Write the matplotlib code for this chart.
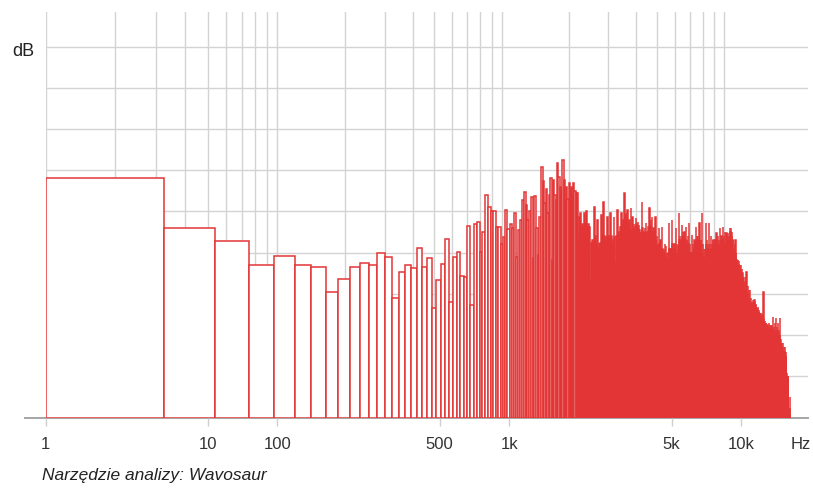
import matplotlib
matplotlib.use("Agg")
import matplotlib.pyplot as plt
import numpy as np

plt.rcParams['font.family'] = ['Liberation Sans', 'DejaVu Sans']

# FFT bin width of the analyser (44.1 kHz, 2048 points)
BIN_HZ = 44100 / 2048
F_MIN = 10.0
F_MAX = 19350.0

# level of each FFT bin (one grid step = 10)
level_lf = [58.2, 45.9, 42.8, 36.9, 39.2, 36.9, 36.4, 30.5, 33.7, 36.5,
            37.6, 37.0, 40.0, 38.9, 28.9, 35.4, 37.0, 36.3, 41.1, 36.6,
            38.6, 26.5, 33.4, 37.3, 43.3, 28.0, 39.0, 40.2, 34.3, 34.2,
            46.5, 27.3, 46.9, 47.5, 40.2, 44.9, 54.0, 51.0, 50.2, 50.0,
            46.3, 46.2, 42.0, 43.9]
level_1k = [50.4, 45.7, 47.0, 45.9, 49.7, 39.0, 45.5, 48.0, 52.8, 54.7,
            51.6, 47.9, 50.0, 53.6, 38.6, 53.8, 46.0, 39.4, 48.7, 60.7,
            57.5, 52.0, 55.4, 49.6, 54.0, 58.1, 38.2, 57.6, 54.0, 52.8,
            61.8, 58.4, 56.0, 55.2, 62.5, 57.6, 52.8, 56.0, 53.0, 57.0,
            55.0,
            56, 54, 56.8, 55, 54.4,
            54.4, 43, 48.7,
            49.6, 46.3, 47,
            46.3, 49.6, 47,
            50, 46.3, 47, 46.3,
            33.4, 42.3, 43,
            42.3, 51.2, 44, 42.3,
            48, 40.7, 42, 41,
            42.3, 49.1, 44,
            52.4, 44, 35, 43,
            43.9, 48.7, 44, 43.9,
            42.3, 49.6, 44, 42.3, 43,
            48.7, 43.9, 37.5, 44,
            43.9, 50.4, 45, 43.9, 44.5,
            46.3, 49.6, 47, 46.3,
            48, 54.4, 49, 48, 49.5,
            46.3, 50.4, 47, 46.3, 48]
level_2k = [41.5, 50.8,
            45.5, 48.7, 46, 45.5, 47, 45.5,
            46.3, 48.3, 47, 46.3, 47.5,
            45.5, 46.7, 45.5, 31.7, 45,
            44.7, 52.4, 46, 44.7, 45, 44.7, 46,
            44.7, 47.1, 35.8, 44, 45, 44.7,
            46.3, 50.8, 47, 46.3, 48,
            44.7, 48.7, 45, 44.7, 46, 44.7, 45,
            41.5, 48.7, 43, 41.5, 44, 41.5, 42,
            40.7, 45.9, 42, 40.7, 43, 40.7,
            40, 46.3, 41, 24.5, 40, 41, 40, 42,
            38.2, 41.5, 39, 38.2, 40, 38.2, 39,
            40, 47.1, 41, 31.7, 40, 41, 39,
            41, 48, 42, 40, 23.7, 41, 40, 42, 41,
            39, 45.9, 40, 39, 42, 39, 40, 39,
            41.5, 49.6, 43, 41.5, 44, 41.5, 42,
            43, 46.7, 44, 43, 45, 43, 44, 43, 45, 43,
            43, 46.3, 42, 23.7, 42, 43, 42, 44, 42,
            39, 47.1, 40, 39, 42, 39, 40, 39,
            39.9, 44.3, 40, 39.9, 42, 39.9, 41, 40, 43, 39.9, 41,
            42.3, 46.3, 43, 42.3, 44, 42.3, 43, 42.3, 44,
            41, 25.3, 42, 47.1, 43, 41, 42, 41, 43,
            37.4, 49.6, 40, 37.4, 42, 37.4, 39, 38, 37.4, 41, 38, 39,
            32, 40.7, 47.1, 42, 40.7, 43, 40.7, 41, 40.7, 42, 41,
            40, 47.1, 41, 29.3, 40, 42, 40, 44, 40, 41, 40, 42, 40, 41, 43, 40]
level_hf = [40, 43, 41, 40, 42, 40, 41, 40, 43, 40,
            41.5, 44.7, 42, 41.5, 43, 41.5, 42, 41.5, 44, 41.5, 42, 43,
            41.5, 45.9, 42, 41.5, 27.8, 42, 43, 41.5, 44, 41.5, 42, 41.5, 43,
            40.7, 46.3, 42, 40.7, 44, 40.7, 42, 40.7, 45, 40.7, 41, 42, 40.7,
            42.3, 44.7, 43, 42.3, 44, 42.3, 43, 42.3, 44.7, 42.3, 43, 42.3, 44,
            43, 45.9, 44, 43, 45, 43, 44, 43, 45.9, 43, 44, 43, 45, 43,
            39, 43, 40, 39, 24.5, 40, 41, 39, 42, 39, 40, 39, 43, 39, 40,
            36.6, 38.2, 37, 36.6, 38, 36.6, 37, 36.6, 38.2, 36, 37, 36.6, 38, 36,
            34, 37, 35, 34, 36, 34, 35, 34, 37, 34, 35, 34, 36, 34, 35, 34,
            30.1, 34.2, 31, 30.1, 33, 30.1, 31, 30.1, 34.2, 30, 31, 30.1, 33, 30.1, 31, 30,
            28.5, 35.4, 29, 28.5, 18.8, 29, 30, 28.5, 32, 28.5, 29, 28.5, 31, 28.5, 29, 28,
            26.1, 31, 27, 26.1, 14, 27, 28, 26.1, 29, 26.1, 27, 26.1, 28, 26.1, 27, 26, 28,
            26.1, 28.5, 27, 26.1, 27.5, 26.1, 27, 26.1, 28.5, 26, 27, 26.1, 28, 26.1, 27, 26, 27.5,
            25.3, 26.9, 25.5, 25.3, 15.6, 25.5, 26, 25.3, 26.9, 25.3, 25.8, 25.3, 26.5, 25.3, 25.6, 25, 26, 25.3,
            23.7, 25.3, 24, 23.7, 24.8, 23.7, 24.2, 23.7, 25.3, 23.5, 24, 23.7, 24.6, 23.7, 24, 23.5, 25, 23.7, 24,
            22, 24, 22.5, 22, 30.5, 22.5, 23, 22, 24, 22, 22.5, 22, 23.5, 22, 22.5, 21.8, 23, 22, 22.5,
            20.4, 22.9, 21, 20.4, 12.3, 21, 21.5, 20.4, 22.5, 20.4, 21, 20.4, 22, 20.4, 21, 20.2, 22.9, 20.4, 21, 20.4,
            20.4, 22.5, 21, 20.4, 4.2, 21, 21.5, 20.4, 22.5, 20.4, 21, 20.4, 22, 20.4, 21, 20.2, 22.5, 20.4, 21, 20.4, 21.5,
            18.8, 24.5, 19.5, 18.8, 21, 18.8, 19.5, 18.8, 22, 18.8, 19.5, 18.8, 23, 18.8, 19.5, 18.6, 21, 18.8, 19.5, 18.8, 20,
            18, 24.1, 19, 18, 21, 18, 19, 18, 22, 18, 19, 18, 23, 18, 19, 17.8, 21, 18, 19, 18, 20, 18,
            14.8, 24.1, 16, 14.8, 20, 14.8, 16, 14.8, 18, 14.8, 16, 14.8, 19, 14.8, 16, 14.6, 17, 14.8, 16, 14.8, 18, 14.8, 15.5,
            14.8, 18, 15.5, 14.8, 16.5, 14.8, 15.5, 14.8, 17, 14.8, 15.5, 14.8, 16, 14.8, 15.5, 14.6, 17, 14.8, 15.5, 14.8, 16, 14.8, 15,
            9.1, 10.7, 9.5, 9.1, 10, 9.1, 9.5, 9.1, 10.7, 9.1, 9.5, 9.1, 10, 9.1, 9.5, 9, 10,
            0.8, 0.6, 0.8, 0.5, 0.7, 0.5, 0.8, 0.6, 2, 5, 0.7, 0.5]

# tick labels as printed under the axis, and where they sit (Hz)
tick_hz = [10, 50, 100, 500, 1000, 5000, 10000]
tick_text = ['1', '10', '100', '500', '1k', '5k', '10k']

# grid decades 10-100, 100-1k, 1k-10k; the printed grid is slightly squeezed
grid_decades = [10, 100, 1000]
grid_squeeze = [1.0, 0.967, 0.958]

levels = np.concatenate([level_lf, level_1k, level_2k, level_hf])
k = np.arange(1, len(levels) + 1)
left = (k - 0.5) * BIN_HZ
right = (k + 0.5) * BIN_HZ
left[0] = F_MIN  # first bin runs off the left edge

fig = plt.figure(figsize=(8.13, 4.94), dpi=100)
ax = fig.add_axes([45.5 / 813, 76.5 / 494, 762.5 / 813, 405.5 / 494])
ax.set_xscale('log')
ax.set_xlim(F_MIN, F_MAX)
ax.set_ylim(0, 98.4)

grid_col = '#d3d3d3'
for y in range(10, 100, 10):
    ax.axhline(y, color=grid_col, lw=1.0, zorder=0)

pos = 0.0
for dec, sq in zip(grid_decades, grid_squeeze):
    for m in range(1, 10):
        f = F_MIN * 10 ** (pos + sq * np.log10(m))
        ax.axvline(f, color=grid_col, lw=1.0, zorder=0)
    pos += sq
ax.axvline(F_MIN * 10 ** pos, color=grid_col, lw=1.0, zorder=0)

# baseline, sticking out a little to the left
ax.plot([-0.027, 1.0], [0, 0], transform=ax.get_yaxis_transform(),
        color='#a5a5a5', lw=1.4, clip_on=False, zorder=1)

ax.bar(left, levels, width=right - left, align='edge', facecolor='white',
       edgecolor='#e33535', linewidth=1.1, zorder=2)

for s in ax.spines.values():
    s.set_visible(False)
ax.set_yticks([])
ax.set_xticks(tick_hz)
ax.set_xticklabels(tick_text)
ax.minorticks_off()
ax.tick_params(axis='x', length=6, width=1.0, color='#cfcfcf', pad=8,
               labelsize=12, labelcolor='#333333')

ax.annotate('Hz', xy=(0.9905, 0), xycoords='axes fraction', xytext=(0, -14),
            textcoords='offset points', ha='center', va='top',
            fontsize=12, color='#333333')

fig.text(12.5 / 813, 1 - 52 / 494, 'dB', ha='left', va='center',
         fontsize=13, color='#222222')
fig.text(41.5 / 813, 1 - 475 / 494, 'Narzędzie analizy: Wavosaur',
         ha='left', va='center', fontsize=12.5, style='italic', color='#222222')

fig.savefig('out.png', dpi=100)
